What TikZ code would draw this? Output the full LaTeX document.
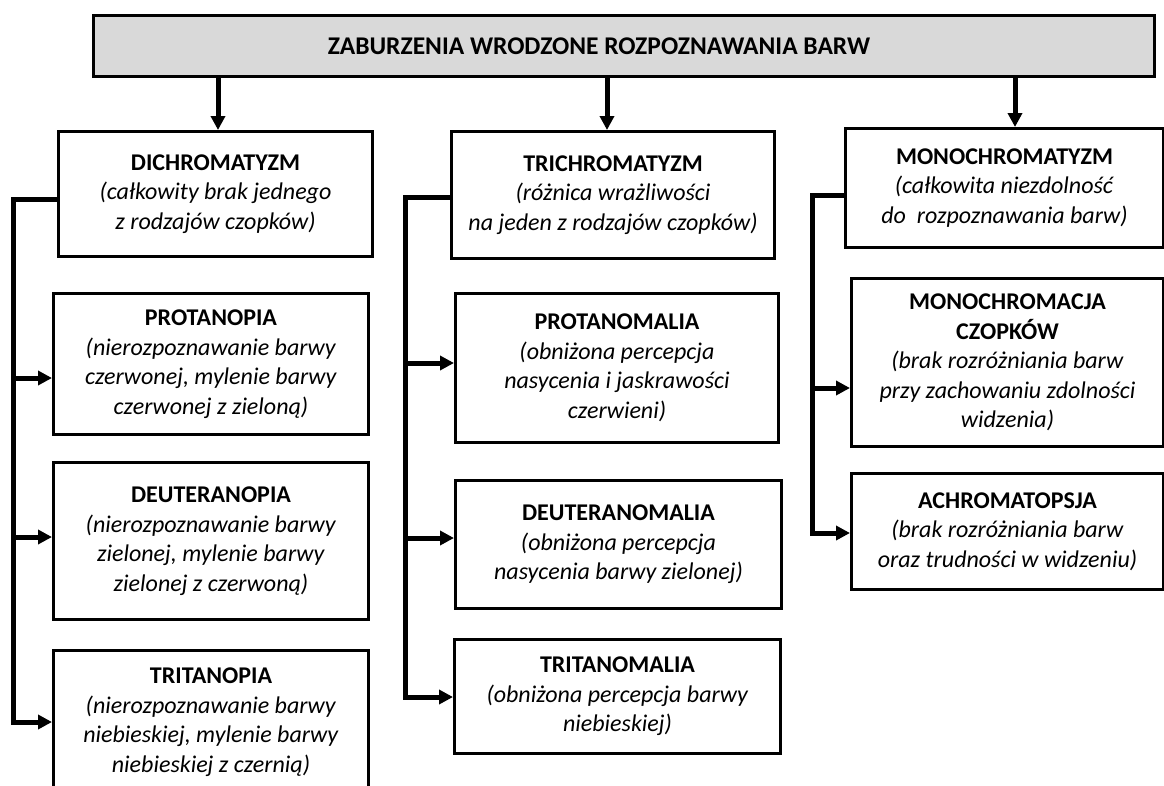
\documentclass[tikz,border=0pt]{standalone}
\usepackage{fontspec}
\setmainfont{Carlito}
\usetikzlibrary{arrows.meta}

\begin{document}
\begin{tikzpicture}[x=1pt, y=-1pt,
    box/.style={draw, line width=3pt, anchor=north west, align=center, inner sep=0pt,
                font=\fontsize{24}{29.5}\selectfont},
    arr/.style={line width=5pt, line join=miter, -{Triangle[length=14pt,width=14pt]}}]
\useasboundingbox (0,0) rectangle (1164,785);
%
\node [box, fill=black!15, minimum width=1061pt, minimum height=61pt,
       font=\fontsize{25.5}{30}\selectfont] (top) at (92,14)
    {\textbf{ZABURZENIA WRODZONE ROZPOZNAWANIA BARW}\hspace*{50pt}};
%
\node [box, minimum width=314pt, minimum height=125pt] (dich) at (57,130)
    {\textbf{DICHROMATYZM}\\ \textit{(całkowity brak jednego}\\ \textit{z rodzajów czopków)}};
\node [box, minimum width=323pt, minimum height=127pt] (trich) at (450,130)
    {\textbf{TRICHROMATYZM}\\ \textit{(różnica wrażliwości}\\ \textit{na jeden z rodzajów czopków)}};
\node [box, minimum width=318pt, minimum height=119pt] (mono) at (844,127)
    {\textbf{MONOCHROMATYZM}\\ \textit{(całkowita niezdolność}\\ \textit{do\ \ rozpoznawania barw)}};
%
\node [box, minimum width=315pt, minimum height=141pt] (prota) at (52,292)
    {\textbf{PROTANOPIA}\\ \textit{(nierozpoznawanie barwy}\\ \textit{czerwonej, mylenie barwy}\\ \textit{czerwonej z zieloną)}};
\node [box, minimum width=315pt, minimum height=157pt] (deutera) at (52,461)
    {\textbf{DEUTERANOPIA}\\ \textit{(nierozpoznawanie barwy}\\ \textit{zielonej, mylenie barwy}\\ \textit{zielonej z czerwoną)}};
\node [box, minimum width=315pt, minimum height=143pt] (trita) at (52,649)
    {\textbf{TRITANOPIA}\\ \textit{(nierozpoznawanie barwy}\\ \textit{niebieskiej, mylenie barwy}\\ \textit{niebieskiej z czernią)}};
%
\node [box, minimum width=323pt, minimum height=149pt] (protanom) at (454,292)
    {\textbf{PROTANOMALIA}\\ \textit{(obniżona percepcja}\\ \textit{nasycenia i jaskrawości}\\ \textit{czerwieni)}};
\node [box, minimum width=326pt, minimum height=128pt] (deuteranom) at (454,479)
    {\textbf{DEUTERANOMALIA}\\ \textit{(obniżona percepcja}\\ \textit{nasycenia barwy zielonej)}};
\node [box, minimum width=326pt, minimum height=114pt] (tritanom) at (453,638)
    {\textbf{TRITANOMALIA}\\ \textit{(obniżona percepcja barwy}\\ \textit{niebieskiej)}};
%
\node [box, minimum width=312pt, minimum height=168pt] (monoczop) at (850,277)
    {\textbf{MONOCHROMACJA}\\ \textbf{CZOPKÓW}\\ \textit{(brak rozróżniania barw}\\ \textit{przy zachowaniu zdolności}\\ \textit{widzenia)}};
\node [box, minimum width=312pt, minimum height=116pt] (achrom) at (850,472)
    {\textbf{ACHROMATOPSJA}\\ \textit{(brak rozróżniania barw}\\ \textit{oraz trudności w widzeniu)}};
%
\foreach \x/\n in {218/dich, 607/trich, 1015/mono}
    \draw [arr] (\x,0 |- top.south) -- (\x,0 |- \n.north);
%
\draw [arr] (13,199 -| dich.west) -- (13,199) |- (13,722 -| trita.west);
\foreach \y/\n in {378/prota, 537/deutera}
    \draw [arr] (13,\y) -- (13,\y -| \n.west);
%
\draw [arr] (405,197 -| trich.west) -- (405,197) |- (405,697 -| tritanom.west);
\foreach \y/\n in {363/protanom, 538/deuteranom}
    \draw [arr] (405,\y) -- (405,\y -| \n.west);
%
\draw [arr] (812,195 -| mono.west) -- (812,195) |- (812,533 -| achrom.west);
\draw [arr] (812,388) -- (812,388 -| monoczop.west);
%%%%%%%%%%%%%%%%%%%%%%%%%%%%%%%
\end{tikzpicture}
\end{document}
